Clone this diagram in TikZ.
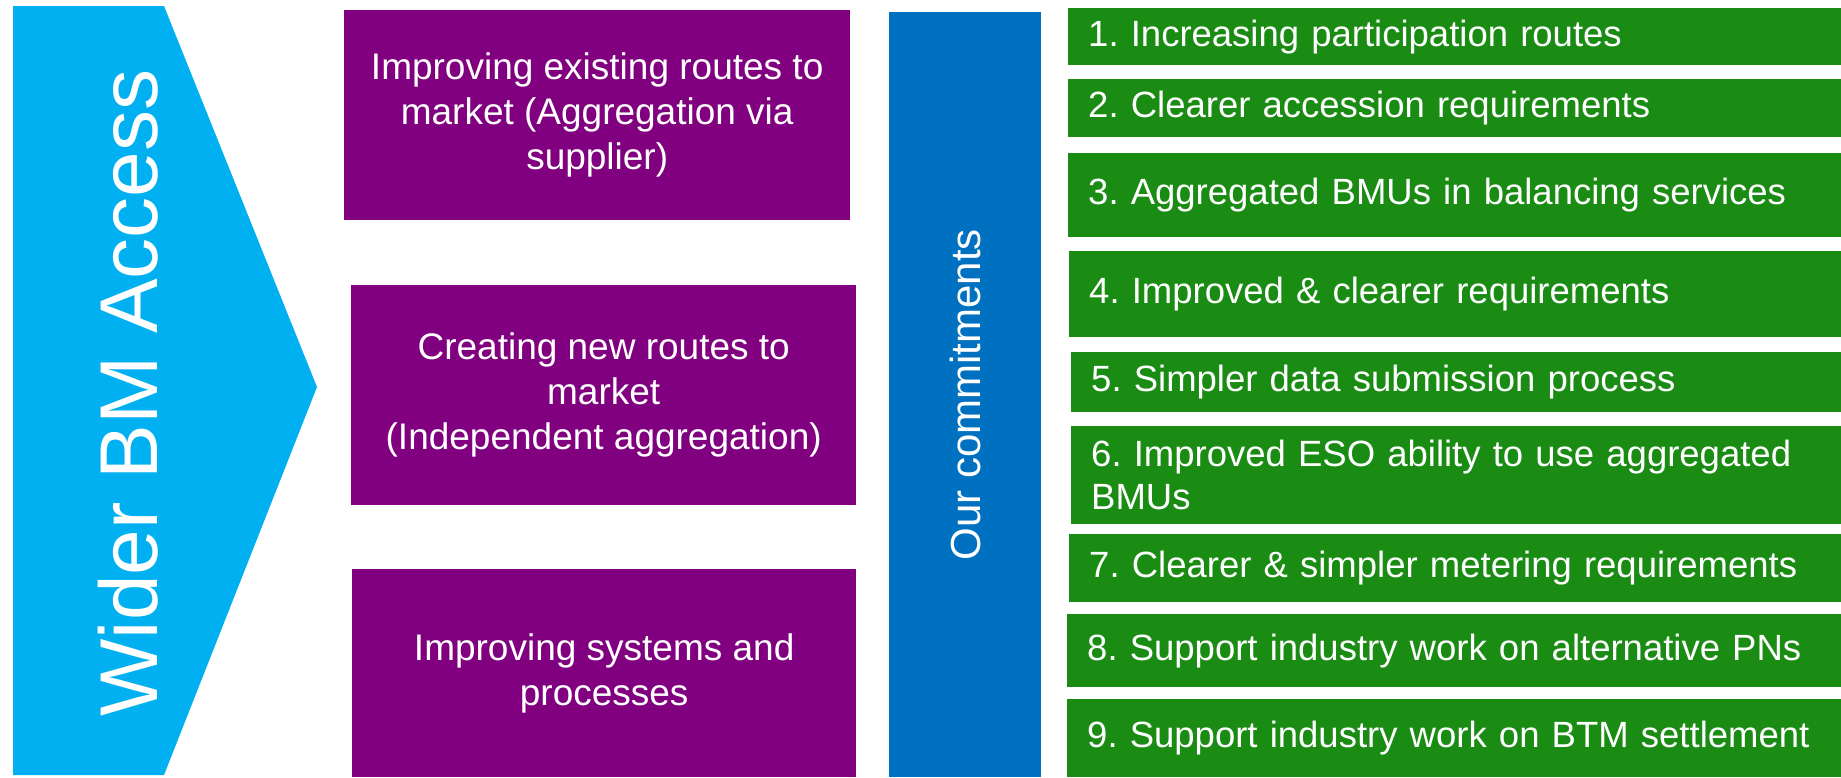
\documentclass[tikz,border=0pt]{standalone}
\usepackage{fontspec}
\setmainfont{Liberation Sans}
\usepackage{tikz}
\usetikzlibrary{positioning}

\definecolor{accesscyan}{HTML}{00B0F0}
\definecolor{routepurple}{HTML}{800080}
\definecolor{commitblue}{HTML}{0070C0}
\definecolor{commitgreen}{HTML}{1A8C14}

\frenchspacing
\hyphenpenalty=10000

\begin{document}
\begin{tikzpicture}[x=1pt, y=-1pt,
  route/.style={rectangle, fill=routepurple, text=white, align=center, anchor=north west, inner sep=0pt, font=\fontsize{37}{45}\selectfont},
  item/.style={rectangle, fill=commitgreen, text=white, align=left, anchor=north west, text width=740pt, inner xsep=20pt, inner ysep=0pt, font=\fontsize{36.5}{43}\selectfont}]

\useasboundingbox (0,0) rectangle (1841,777);

% Pfeil links
\fill[accesscyan] (13,6) -- (164,6) -- (317,387) -- (164,775) -- (13,775) -- cycle;
\node[rotate=90, text=white, inner sep=0pt, font=\fontsize{82}{96}\selectfont] (access) at (128,393) {Wider BM Access};

% Wege zum Markt
\node[route, minimum width=506pt, minimum height=210pt] (existing) at (344,10) {Improving existing routes to \\ market (Aggregation via \\ supplier)};
\node[route, minimum width=505pt, minimum height=220pt] (newroutes) at (351,285) {Creating new routes to \\ market \\ (Independent aggregation)};
\node[route, minimum width=504pt, minimum height=208pt] (systems) at (352,569) {Improving systems and \\ processes};

% Balken
\node[rectangle, fill=commitblue, anchor=north west, minimum width=152pt, minimum height=765pt, inner sep=0pt] (commit) at (889,12) {};
\node[rotate=90, text=white, inner sep=0pt, font=\fontsize{42}{48}\selectfont] at (commit.center) {Our commitments};

% Zusagen
\node[item, minimum height=57pt] (c1) at (1068,8) {1. Increasing participation routes};
\node[item, minimum height=58pt] (c2) at (1068,79) {2. Clearer accession requirements};
\node[item, minimum height=84pt] (c3) at (1068,153) {3. Aggregated BMUs in balancing services};
\node[item, minimum height=86pt] (c4) at (1069,251) {4. Improved \& clearer requirements};
\node[item, minimum height=60pt] (c5) at (1071,352) {5. Simpler data submission process};
\node[item, minimum height=98pt] (c6) at (1071,426) {6. Improved ESO ability to use aggregated \\ BMUs};
\node[item, minimum height=68pt] (c7) at (1069,534) {7. Clearer \& simpler metering requirements};
\node[item, minimum height=73pt] (c8) at (1067,614) {8. Support industry work on alternative PNs};
\node[item, minimum height=78pt] (c9) at (1067,699) {9. Support industry work on BTM settlement};

\end{tikzpicture}
\end{document}
